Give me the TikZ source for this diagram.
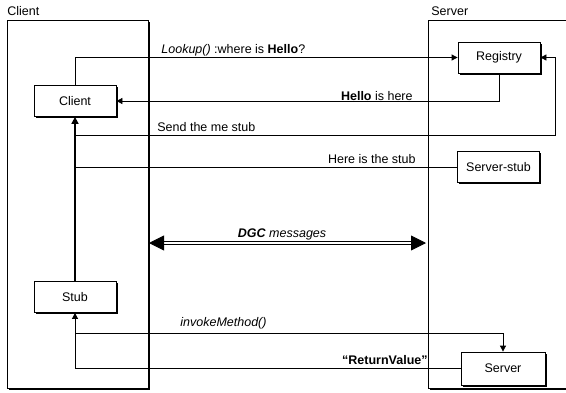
\documentclass[tikz,border=0pt]{standalone}
\usepackage{fontspec}
\setmainfont{Liberation Sans}
\usetikzlibrary{arrows.meta,shadows}

\begin{document}
\begin{tikzpicture}[x=1pt,y=-1pt,line width=0.8pt,
        font=\fontsize{12.5pt}{14pt}\selectfont,
        shade/.style={drop shadow={shadow xshift=1.8pt,shadow yshift=-1.8pt,opacity=1,fill=black}},
        obj/.style={draw,fill=white,shade,minimum width=82pt,minimum height=31pt,inner sep=0pt},
        lbl/.style={inner sep=0pt},
        msg/.style={-{Triangle[length=6pt,width=6pt]}},
        dgc/.style={double,double distance=1.6pt,line width=0.9pt,
                    {Triangle[length=15pt,width=15pt]}-{Triangle[length=15pt,width=15pt]}}]
            \useasboundingbox (0,0) rectangle (566,392);

            % Containers
            \draw[fill=white,shade] (7,20) rectangle (148,388);
            \draw[fill=white,shade] (428,20) rectangle (580,388);
            \node[lbl,anchor=west] (clienttitle) at (7,11) {Client};
            \node[lbl,anchor=west] (servertitle) at (431,11) {Server};

            \node[obj] (client)     at (75,101)    {Client};
            \node[obj] (registry)   at (499,57.5)  {Registry};
            \node[obj] (serverstub) at (498.5,167) {Server-stub};
            \node[obj] (stub)       at (75,297)    {Stub};
            \node[obj,minimum width=84pt,minimum height=33pt] (server) at (503,368.5) {Server};

            \coordinate (sendstart) at (75,135);
            \coordinate (sendturn)  at (555,135);
            \coordinate (dgcl)      at (149,243);
            \coordinate (dgcr)      at (426,243);
            \coordinate (invstart)  at (75,333);

            \draw[msg] (client.north) |- (registry.west);
            \draw[msg] (registry.south) |- (client.east);
            \draw[msg] (sendstart) -- (sendturn) |- (registry.east);
            \draw (serverstub.west) -- (serverstub.west -| client.south);
            \draw[msg,line width=1.6pt,-{Triangle[length=7pt,width=7pt]}] (stub.north) -- (client.south);
            \draw[dgc] (dgcl) -- (dgcr);
            \draw[msg] (invstart) -| (server.north);
            \draw[msg] (server.west) -| (stub.south);

            % Labels
            \node[lbl,anchor=west] (lookuplbl) at (161,50)  {\textit{Lookup()} :where is \textbf{Hello}?};
            \node[lbl,anchor=east] (hellolbl)  at (413,96)  {\textbf{Hello} is here};
            \node[lbl,anchor=west] (sendlbl)   at (157,127) {Send the me stub};
            \node[lbl,anchor=east] (herelbl)   at (416,159) {Here is the stub};
            \node[lbl] (dgclbl)                at (282,234) {\textbf{\textit{DGC}} \textit{messages}};
            \node[lbl,anchor=west] (invokelbl) at (180,323) {\textit{invokeMethod()}};
            \node[lbl,anchor=east] (returnlbl) at (428,360) {\textbf{“ReturnValue”}};
\end{tikzpicture}
\end{document}
